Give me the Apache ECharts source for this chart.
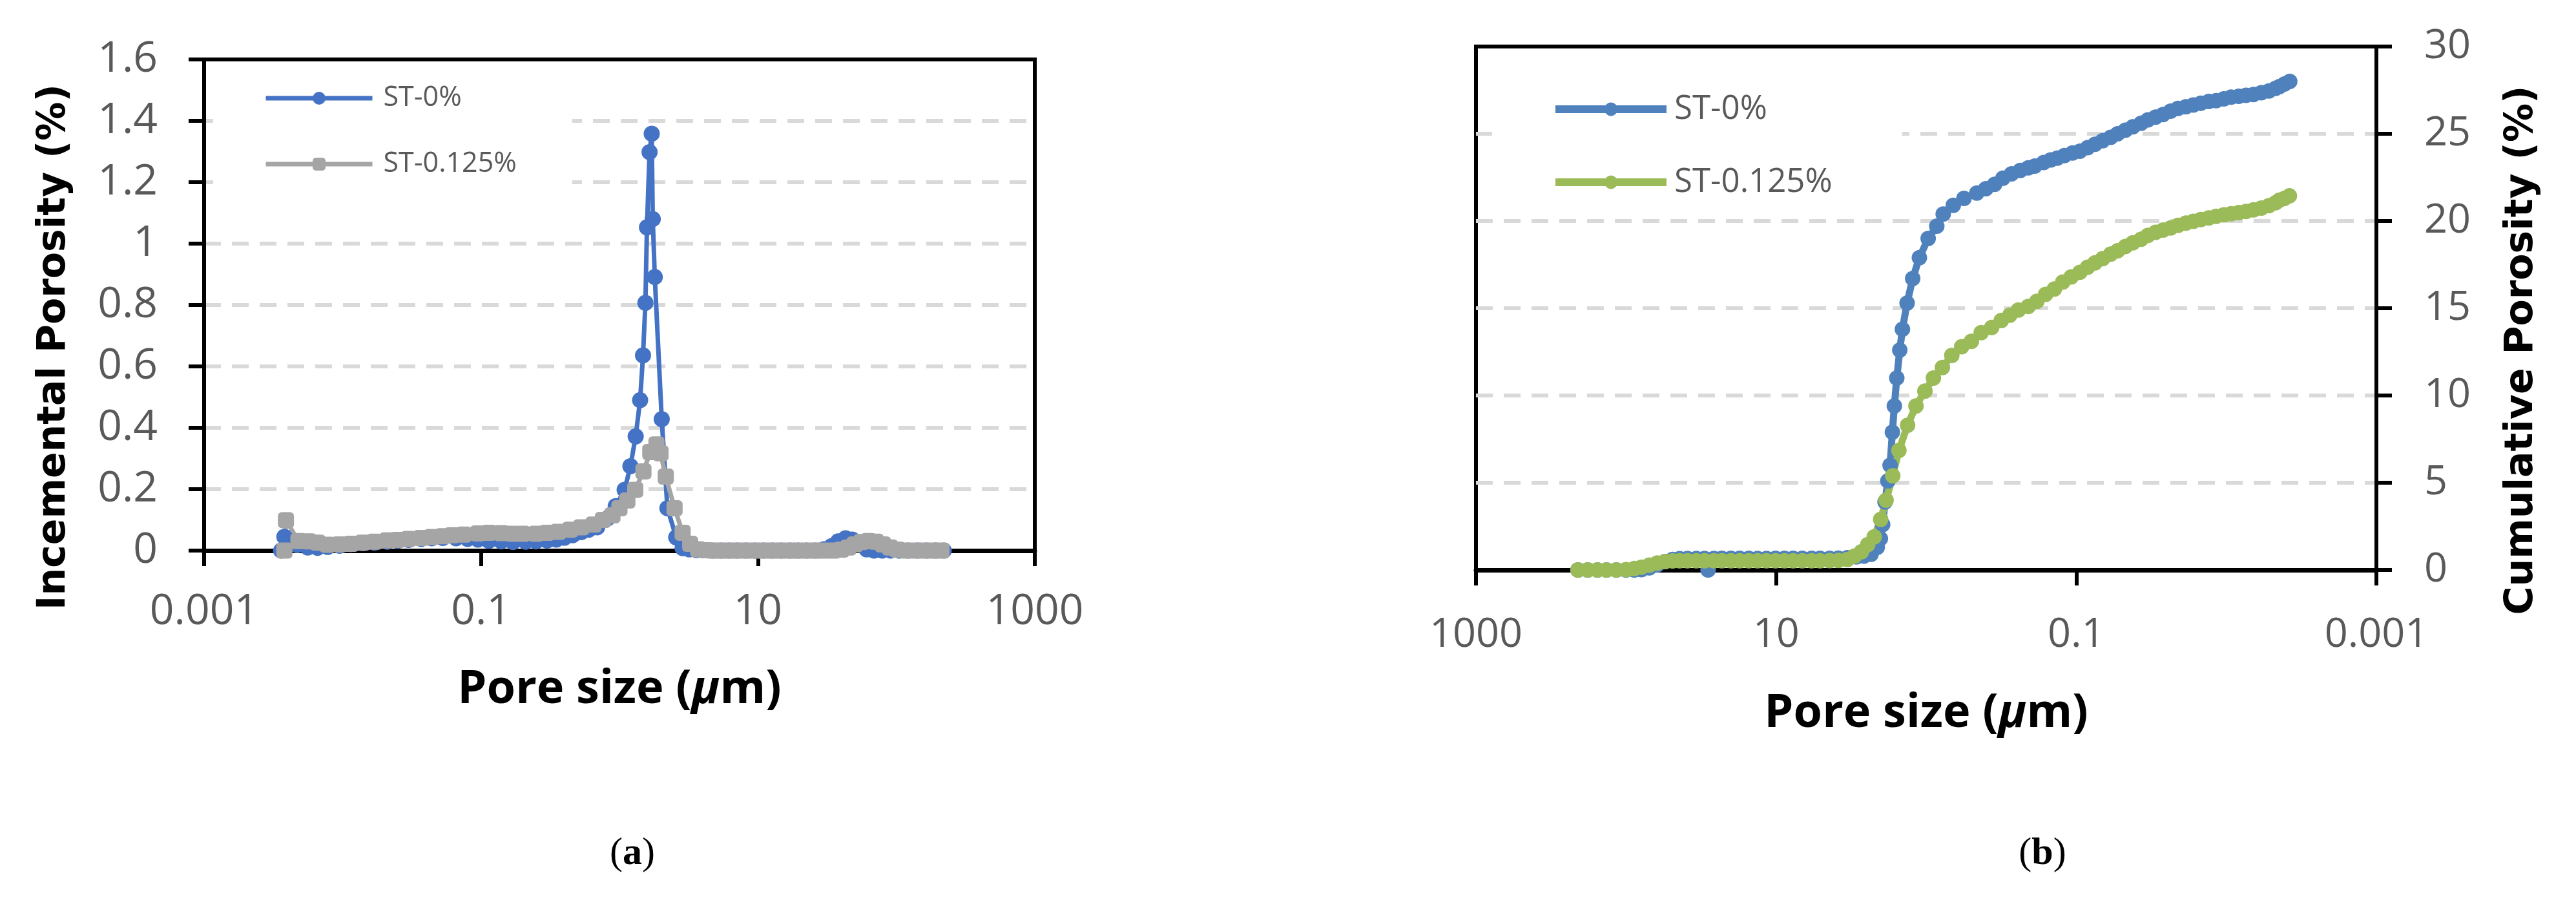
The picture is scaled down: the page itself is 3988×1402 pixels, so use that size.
<!DOCTYPE html>
<html><head><meta charset="utf-8">
<script src="https://cdn.jsdelivr.net/npm/echarts@6.0.0/dist/echarts.min.js"></script>
<style>html,body{margin:0;padding:0;background:#fff}#c{width:3988px;height:1402px}</style>
</head><body><div id="c"></div>
<script>
// ---------- data ----------
const seriesNames = ['ST-0%', 'ST-0.125%'];
const xTickLabels = ['0.001', '0.1', '10', '1000'];
const xTickValues = [0.001, 0.1, 10, 1000];
const panelLabels = ['a', 'b'];

// (a) incremental porosity
const poreA0 = [220,190,165,142,122,105,91,79,69,61,54,48,43,38,34,30,26,22.5,19.5,17,14.7,12.7,11,9.5,8.2,7.1,6.2,5.4,4.7,4.1,3.6,3.2,2.86,2.57,2.22,2.02,1.80,1.74,1.71,1.65,1.58,1.54,1.48,1.41,1.31,1.20,1.09,0.94,0.82,0.69,0.6,0.53,0.46,0.4,0.35,0.3,0.25,0.21,0.17,0.14,0.114,0.095,0.08,0.066,0.053,0.044,0.037,0.03,0.025,0.021,0.017,0.014,0.0115,0.0095,0.0078,0.0066,0.0056,0.0047,0.0042,0.0038,0.0036];
const incA0  = [0,0,0,0,0,0,0,0,0,0.004,0.02,0.036,0.04,0.03,0.014,0.004,0,0,0,0,0,0,0,0,0,0,0,0,0,0.001,0.002,0.004,0.008,0.043,0.138,0.428,0.891,1.08,1.358,1.298,1.053,0.807,0.636,0.49,0.372,0.275,0.198,0.145,0.105,0.076,0.068,0.06,0.05,0.042,0.036,0.033,0.03,0.029,0.028,0.03,0.032,0.036,0.038,0.04,0.041,0.04,0.038,0.035,0.032,0.029,0.026,0.024,0.021,0.016,0.012,0.009,0.01,0.018,0.03,0.045,0];
const poreA1 = [212,185,160,138,118,102,90,80,71,63,56,50,45,40,35,30,26,22.5,19.5,17,14.7,12.7,11,9.5,8.2,7.1,6.2,5.4,4.7,4.2,3.7,3.24,2.86,2.5,2.16,1.98,1.85,1.67,1.49,1.30,1.14,1.0,0.89,0.76,0.65,0.53,0.44,0.36,0.3,0.25,0.2,0.168,0.14,0.114,0.095,0.075,0.062,0.053,0.044,0.037,0.03,0.025,0.021,0.017,0.014,0.0115,0.0095,0.0078,0.0066,0.0057,0.0048,0.0039,0.0038];
const incA1  = [0,0,0,0,0,0.003,0.01,0.02,0.029,0.031,0.028,0.02,0.01,0.003,0,0,0,0,0,0,0,0,0,0,0,0,0,0,0,0.001,0.004,0.022,0.058,0.138,0.241,0.317,0.346,0.321,0.258,0.198,0.163,0.138,0.115,0.1,0.085,0.076,0.068,0.061,0.058,0.055,0.055,0.055,0.057,0.058,0.056,0.052,0.05,0.047,0.044,0.041,0.038,0.035,0.033,0.029,0.026,0.022,0.02,0.019,0.026,0.03,0.031,0.099,0];

// (b) cumulative porosity
const poreB0 = [209,180,155,135,116,100,88,79,70,62,55,49,44,39,34,30,28.4,26,23,20,17.5,15.2,13.3,11.6,10.1,8.8,7.7,6.7,5.8,5.1,4.4,3.85,3.35,2.92,2.6,2.33,2.12,2.02,1.95,1.88,1.80,1.74,1.68,1.63,1.57,1.50,1.44,1.34,1.23,1.11,0.97,0.85,0.77,0.66,0.56,0.46,0.40,0.35,0.308,0.27,0.236,0.209,0.189,0.165,0.148,0.134,0.12,0.106,0.0946,0.084,0.075,0.0667,0.059,0.053,0.0471,0.042,0.037,0.0333,0.0296,0.0264,0.0235,0.021,0.0186,0.0166,0.0148,0.0131,0.0117,0.0104,0.0093,0.00828,0.0074,0.0066,0.00585,0.0052,0.0047,0.00443,0.0041,0.00378];
const cumB0  = [0,0,0,0,0,0,0,0.02,0.12,0.3,0.48,0.6,0.65,0.66,0.66,0.66,0,0.66,0.67,0.67,0.67,0.67,0.66,0.66,0.67,0.67,0.67,0.67,0.67,0.67,0.67,0.68,0.7,0.75,0.8,0.9,1.3,1.8,2.6,3.9,5.1,6.0,7.9,9.4,11.0,12.6,13.8,15.3,16.7,17.9,19.0,19.7,20.4,20.9,21.3,21.6,21.85,22.1,22.45,22.7,22.9,23.05,23.15,23.35,23.5,23.6,23.75,23.9,24.0,24.2,24.4,24.6,24.8,25.0,25.2,25.4,25.6,25.8,25.95,26.1,26.3,26.45,26.55,26.65,26.75,26.85,26.9,27.0,27.1,27.15,27.2,27.25,27.35,27.45,27.6,27.7,27.85,28.0];
const poreB1 = [209,180,155,135,116,100,88,79,70,62,55,49,44,39,34,30,26,23,20,17.5,15.2,13.3,11.6,10.1,8.8,7.7,6.7,5.8,5.1,4.4,3.85,3.35,3.0,2.7,2.45,2.22,2.01,1.85,1.67,1.52,1.33,1.17,1.02,0.895,0.78,0.675,0.58,0.50,0.43,0.366,0.316,0.277,0.243,0.209,0.183,0.16,0.14,0.123,0.108,0.0946,0.084,0.075,0.0667,0.059,0.053,0.0471,0.042,0.037,0.0333,0.0296,0.0264,0.0235,0.021,0.0186,0.0166,0.0148,0.0131,0.0117,0.0104,0.0093,0.00828,0.0074,0.0066,0.00585,0.0052,0.0047,0.00443,0.0041,0.0038];
const cumB1  = [0,0,0,0,0,0.02,0.08,0.16,0.28,0.4,0.48,0.52,0.53,0.53,0.53,0.53,0.53,0.53,0.53,0.53,0.53,0.53,0.53,0.53,0.53,0.53,0.53,0.53,0.53,0.54,0.55,0.6,0.8,1.05,1.45,1.9,2.9,4.0,5.4,6.85,8.3,9.4,10.25,11.0,11.6,12.3,12.8,13.1,13.6,13.9,14.3,14.6,14.9,15.1,15.4,15.8,16.1,16.5,16.8,17.06,17.35,17.6,17.84,18.1,18.3,18.54,18.75,18.95,19.18,19.35,19.48,19.6,19.75,19.88,19.98,20.08,20.18,20.27,20.35,20.42,20.48,20.55,20.64,20.74,20.88,21.05,21.19,21.3,21.44];

// ---------- styling ----------
const TICK_FONT = 'Open Sans';
const TICK_COLOR = '#595959';
const pair = (xs, ys) => xs.map((x, i) => [x, ys[i]]);
const tickLabel = v => {
  const i = xTickValues.findIndex(t => Math.abs(Math.log10(t) - Math.log10(v)) < 1e-6);
  return i >= 0 ? xTickLabels[i] : '';
};
const gridLine = {show: true, showMinLine: false, showMaxLine: false,
  lineStyle: {color: '#d9d9d9', width: 6, type: [26, 17]}};
const xName = {
  fontFamily: 'Open Sans', fontWeight: 'bold', fontSize: 72, color: '#000', verticalAlign: 'middle',
  rich: {i: {fontFamily: 'Open Sans', fontWeight: 'bold', fontStyle: 'italic', fontSize: 72, color: '#000'}}
};
const yName = {fontFamily: 'DejaVu Sans', fontWeight: 'bold', fontSize: 60, color: '#000',
  verticalAlign: 'middle', padding: [0, 130, 0, 0]};

function xAxisDef(gridIndex, inverse, labelMargin, nameGap, fontSize) {
  return {
    gridIndex, type: 'log', logBase: 10, min: 0.001, max: 1000, inverse,
    axisLine: {show: true, onZero: false, lineStyle: {color: '#000', width: 7}},
    axisTick: {show: true, inside: false, length: 24, lineStyle: {color: '#000', width: 6}, customValues: xTickValues},
    axisLabel: {show: true, customValues: xTickValues, formatter: tickLabel, margin: labelMargin,
      verticalAlign: 'middle', fontFamily: TICK_FONT, fontSize, color: TICK_COLOR},
    minorTick: {show: false}, splitLine: {show: false}, minorSplitLine: {show: false},
    name: 'Pore size ({i|\u03bc}m)', nameLocation: 'middle', nameGap, nameTextStyle: xName
  };
}

const chart = echarts.init(document.getElementById('c'), null, {renderer: 'canvas'});
chart.setOption({
  animation: false,
  backgroundColor: '#fff',
  grid: [
    {left: 316, top: 92, width: 1286, height: 760, show: true, borderColor: '#000', borderWidth: 6, containLabel: false},
    {left: 2285, top: 72, width: 1394, height: 810, show: true, borderColor: '#000', borderWidth: 6, containLabel: false}
  ],
  xAxis: [
    xAxisDef(0, false, 95, 215, 66),
    xAxisDef(1, true, 101, 222, 63)
  ],
  yAxis: [
    {gridIndex: 0, type: 'value', min: 0, max: 1.6, interval: 0.2, position: 'left',
     axisLine: {show: true, lineStyle: {color: '#000', width: 6}},
     axisTick: {show: true, inside: false, length: 24, lineStyle: {color: '#000', width: 6}},
     axisLabel: {margin: 72, fontFamily: TICK_FONT, fontSize: 66, color: TICK_COLOR},
     splitLine: gridLine,
     name: 'Incemental Porosity (%)', nameLocation: 'middle', nameRotate: 90, nameGap: 232, nameTextStyle: yName},
    {gridIndex: 1, type: 'value', min: 0, max: 30, interval: 5, position: 'right',
     axisLine: {show: true, lineStyle: {color: '#000', width: 6}},
     axisTick: {show: true, inside: false, length: 24, lineStyle: {color: '#000', width: 6}},
     axisLabel: {margin: 74, fontFamily: TICK_FONT, fontSize: 63, color: TICK_COLOR},
     splitLine: gridLine,
     name: 'Cumulative Porosity (%)', nameLocation: 'middle', nameRotate: 90, nameGap: 225, nameTextStyle: yName}
  ],
  legend: [
    {data: seriesNames.map(n => n + ' (a)'), orient: 'vertical', left: 330, top: 97,
     padding: [30, 86, 30, 78], itemWidth: 165, itemHeight: 25, itemGap: 52,
     backgroundColor: '#fff', selectedMode: false, formatter: n => n.replace(' (a)', ''),
     textStyle: {fontFamily: TICK_FONT, fontSize: 43, color: TICK_COLOR, lineHeight: 50, padding: [0, 0, 0, 12]},
     lineStyle: {width: 7}},
    {data: seriesNames.map(n => n + ' (b)'), orient: 'vertical', left: 2310, top: 110,
     padding: [30, 108, 15, 92], itemWidth: 172, itemHeight: 26, itemGap: 55,
     backgroundColor: '#fff', selectedMode: false, formatter: n => n.replace(' (b)', ''),
     textStyle: {fontFamily: TICK_FONT, fontSize: 51, color: TICK_COLOR, lineHeight: 58, padding: [0, 0, 0, 7]},
     lineStyle: {width: 12}}
  ],
  series: [
    {name: seriesNames[0] + ' (a)', type: 'line', xAxisIndex: 0, yAxisIndex: 0, data: pair(poreA0, incA0),
     symbol: 'circle', symbolSize: 25, showSymbol: true, color: '#4472C4',
     lineStyle: {width: 7, color: '#4472C4'}, itemStyle: {color: '#4472C4'}},
    {name: seriesNames[1] + ' (a)', type: 'line', xAxisIndex: 0, yAxisIndex: 0, data: pair(poreA1, incA1),
     symbol: 'roundRect', symbolSize: 25, showSymbol: true, color: '#A5A5A5',
     lineStyle: {width: 7, color: '#A5A5A5'}, itemStyle: {color: '#A5A5A5'}},
    {name: seriesNames[0] + ' (b)', type: 'line', xAxisIndex: 1, yAxisIndex: 1, data: pair(poreB0, cumB0),
     symbol: 'circle', symbolSize: 24, showSymbol: true, color: '#4F81BD',
     lineStyle: {width: 11, color: '#4F81BD'}, itemStyle: {color: '#4F81BD'}},
    {name: seriesNames[1] + ' (b)', type: 'line', xAxisIndex: 1, yAxisIndex: 1, data: pair(poreB1, cumB1),
     symbol: 'circle', symbolSize: 24, showSymbol: true, color: '#9BBB59',
     lineStyle: {width: 11, color: '#9BBB59'}, itemStyle: {color: '#9BBB59'}}
  ],
  graphic: panelLabels.map((p, i) => ({
    type: 'text', x: i === 0 ? 979 : 3162, y: 1321,
    style: {text: '({b|' + p + '})', fontFamily: 'Liberation Serif', fontSize: 60, fill: '#000',
      align: 'center', verticalAlign: 'middle',
      rich: {b: {fontFamily: 'Liberation Serif', fontSize: 60, fontWeight: 'bold', fill: '#000'}}}
  }))
});
</script></body></html>
